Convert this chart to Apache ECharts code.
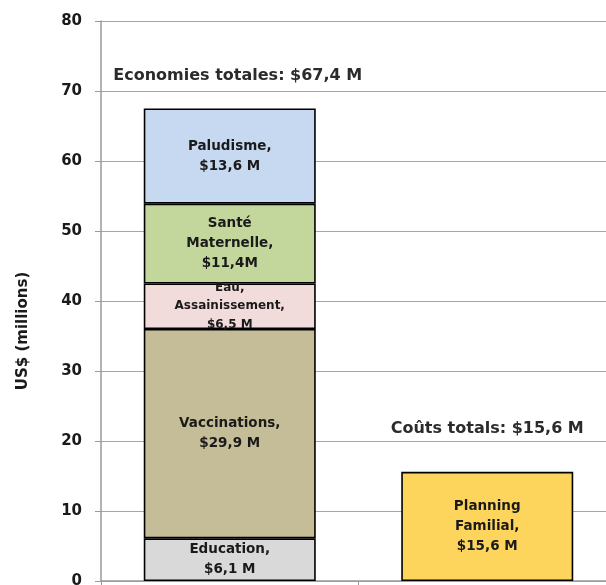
<!DOCTYPE html>
<html><head><meta charset="utf-8">
<script src="https://cdn.jsdelivr.net/npm/echarts@6/dist/echarts.min.js"></script>
<style>html,body{margin:0;padding:0;background:#fff}#c{width:606px;height:585px}</style>
</head><body><div id="c"></div>
<script>
const categories = ['Economies', 'Coûts'];
const seriesNames = ['Education', 'Vaccinations', 'Eau, Assainissement', 'Santé Maternelle', 'Paludisme', 'Planning Familial'];
const education = [6.1, '-'];
const vaccinations = [29.9, '-'];
const eau = [6.5, '-'];
const sante = [11.4, '-'];
const paludisme = [13.6, '-'];
const planning = ['-', 15.6];
const segmentLabels = ['Education,\n$6,1 M', 'Vaccinations,\n$29,9 M', 'Eau,\nAssainissement,\n$6,5 M', 'Santé\nMaternelle,\n$11,4M', 'Paludisme,\n$13,6 M', 'Planning\nFamilial,\n$15,6 M'];
const totalLabels = ['Economies totales: $67,4 M', 'Coûts totals: $15,6 M'];
const yTicks = [0, 10, 20, 30, 40, 50, 60, 70, 80];

const colors = ['#d9d9d9', '#c4bd97', '#f2dcdb', '#c3d69b', '#c6d9f1', '#fdd55c'];
const values = [education, vaccinations, eau, sante, paludisme, planning];
const FONT = 'DejaVu Sans';

const series = values.map((v, i) => ({
  name: seriesNames[i],
  type: 'bar',
  stack: 'total',
  barWidth: 172,
  data: v,
  itemStyle: { color: colors[i], borderColor: '#000', borderWidth: 1.6 },
  label: {
    show: true, position: 'inside',
    formatter: () => segmentLabels[i],
    color: '#1a1a1a', fontFamily: FONT, fontWeight: 'bold',
    fontSize: i === 2 ? 12 : 13.5, lineHeight: i === 2 ? 18.5 : 20,
    align: 'center'
  }
}));
series.push({
  name: 'total', type: 'bar', stack: 'total', barWidth: 172,
  data: [
    { value: 0, label: { distance: 25, offset: [8, 0] } },
    { value: 0, label: { distance: 35 } }
  ],
  itemStyle: { color: 'transparent', borderWidth: 0 },
  label: {
    show: true, position: 'top',
    formatter: (p) => totalLabels[p.dataIndex],
    color: '#2b2b2b', fontFamily: FONT, fontWeight: 'bold', fontSize: 16
  }
});

const chart = echarts.init(document.getElementById('c'), null, { renderer: 'canvas' });
chart.setOption({
  animation: false,
  grid: { left: 101, width: 515, top: 21, bottom: 4, containLabel: false, outerBoundsMode: 'none' },
  xAxis: {
    type: 'category', data: categories,
    axisLine: { lineStyle: { color: '#9a9a9a', width: 1.5 } },
    axisTick: { show: true, length: 6, lineStyle: { color: '#9a9a9a' } },
    axisLabel: { show: false }
  },
  yAxis: {
    type: 'value', min: yTicks[0], max: yTicks[yTicks.length - 1], interval: 10,
    name: 'US$ (millions)', nameLocation: 'middle', nameGap: 70, nameRotate: 90,
    nameTextStyle: { color: '#1a1a1a', fontFamily: FONT, fontWeight: 'bold', fontSize: 15, padding: [0, 60, 0, 0] },
    axisLine: { show: true, lineStyle: { color: '#9a9a9a', width: 1.5 } },
    axisTick: { show: true, length: 6, lineStyle: { color: '#9a9a9a' } },
    splitLine: { show: true, lineStyle: { color: '#a6a6a6', width: 1.2 } },
    axisLabel: { color: '#1a1a1a', fontFamily: FONT, fontWeight: 'bold', fontSize: 15, margin: 19 }
  },
  series: series
});
</script></body></html>
